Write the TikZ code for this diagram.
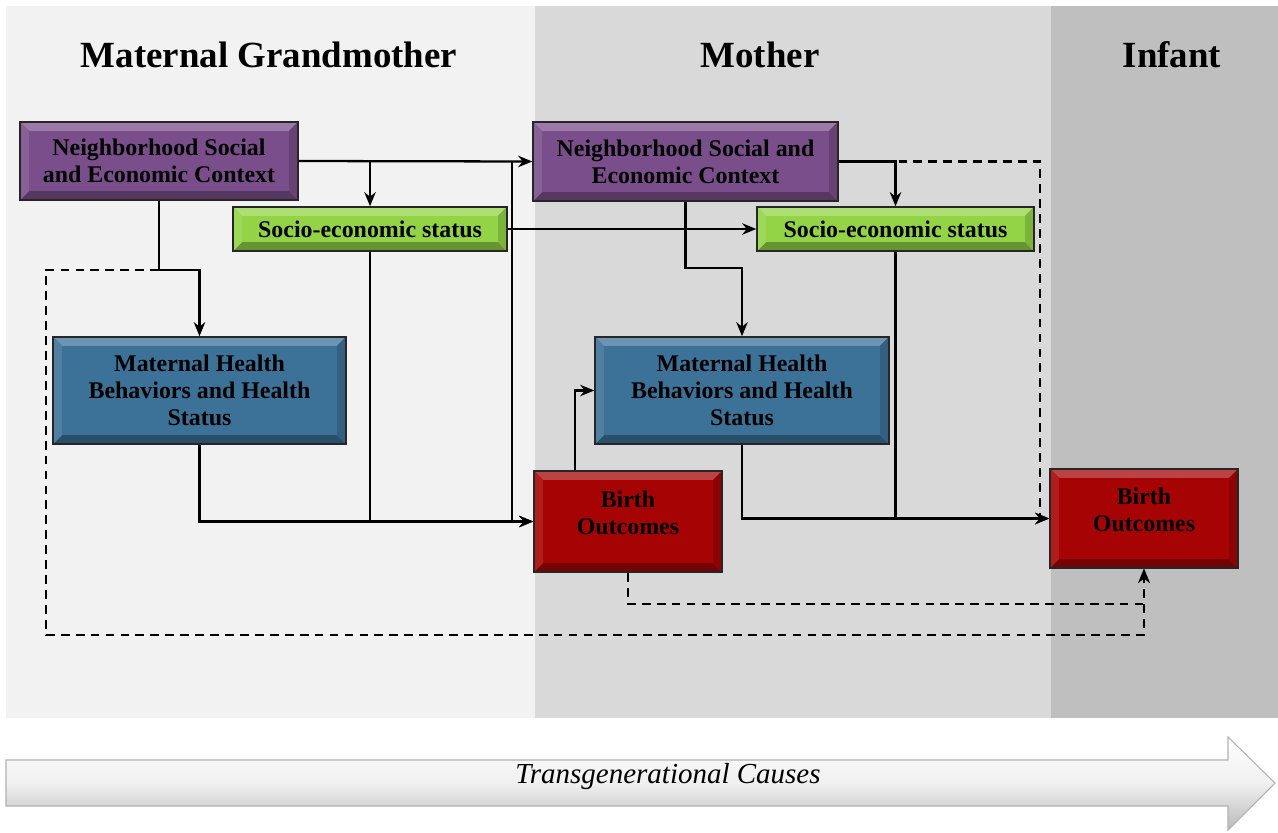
\documentclass[tikz,border=0pt]{standalone}
\usepackage{fontspec}
\setmainfont{Liberation Serif}
\usetikzlibrary{calc,arrows.meta}
\definecolor{panelA}{HTML}{F2F2F2}
\definecolor{panelB}{HTML}{D9D9D9}
\definecolor{panelC}{HTML}{BFBFBF}
\definecolor{boxpurple}{RGB}{122,78,138}
\definecolor{boxgreen}{RGB}{146,212,70}
\definecolor{boxblue}{RGB}{60,113,152}
\definecolor{boxred}{RGB}{166,4,4}
\tikzset{
  bevelbox/.style={draw=black!85, line width=0.9pt, fill=#1, inner sep=0pt, align=center,
    font=\fontsize{13.6}{15.5}\selectfont\bfseries,
    path picture={
      \coordinate (PA) at (path picture bounding box.north west);
      \coordinate (PB) at (path picture bounding box.north east);
      \coordinate (PC) at (path picture bounding box.south east);
      \coordinate (PD) at (path picture bounding box.south west);
      \fill[#1!75!white] (PA) -- (PB) -- ([shift={(-5pt,-5pt)}]PB) -- ([shift={(5pt,-5pt)}]PA) -- cycle;
      \fill[#1!70!black] (PD) -- (PC) -- ([shift={(-5pt,5pt)}]PC) -- ([shift={(5pt,5pt)}]PD) -- cycle;
      \fill[#1!90!white] (PA) -- (PD) -- ([shift={(5pt,5pt)}]PD) -- ([shift={(5pt,-5pt)}]PA) -- cycle;
      \fill[#1!85!black] (PB) -- (PC) -- ([shift={(-5pt,5pt)}]PC) -- ([shift={(-5pt,-5pt)}]PB) -- cycle;
    }},
  wire/.style={line width=1.3pt},
  conn/.style={wire, -{Stealth[length=8pt,width=6.5pt]}},
  dconn/.style={conn, dash pattern=on 5pt off 3.5pt},
}

\begin{document}
\begin{tikzpicture}[x=0.02cm,y=-0.02cm]
  \useasboundingbox[fill=white] (0,0) rectangle (1278,832);
  \foreach \xa/\xb/\col/\xt/\name in {%
    6/535/panelA/269/Maternal Grandmother,
    535/1051/panelB/760/Mother,
    1051/1278/panelC/1172/Infant}{%
      \fill[\col] (\xa,6) rectangle (\xb,718);
      \node[font=\fontsize{21}{24}\selectfont\bfseries] at (\xt,55) {\name};
    }

  % grandmother
  \node[bevelbox=boxpurple, minimum width=5.56cm, minimum height=1.56cm] (nsA) at (159,161) {Neighborhood Social\\and Economic Context};
  \node[bevelbox=boxgreen, minimum width=5.48cm, minimum height=0.88cm] (sesA) at (370,229) {Socio-economic status};
  \node[bevelbox=boxblue, minimum width=5.86cm, minimum height=2.14cm] (mhA) at (199.5,390.5) {Maternal Health\\Behaviors and Health\\Status};
  % mother
  \node[bevelbox=boxpurple, minimum width=6.1cm, minimum height=1.58cm] (nsB) at (685.5,161.5) {Neighborhood Social and\\Economic Context};
  \node[bevelbox=boxgreen, minimum width=5.54cm, minimum height=0.88cm] (sesB) at (895.5,229) {Socio-economic status};
  \node[bevelbox=boxblue, minimum width=5.88cm, minimum height=2.14cm] (mhB) at (742,390.5) {Maternal Health\\Behaviors and Health\\Status};
  \node[bevelbox=boxred, minimum width=3.76cm, minimum height=2.02cm] (boA) at (628,521.5) {Birth\\Outcomes\\[-5.5pt]};
  % infant
  \node[bevelbox=boxred, minimum width=3.76cm, minimum height=1.98cm] (boB) at (1144,518.5) {Birth\\Outcomes\\[-5.5pt]};

  \coordinate (jA) at (159,270);
  \coordinate (jB) at (685.5,268);
  \coordinate (vA) at (512,161);
  \draw[conn] (nsA.east) -- (nsB.west);
  \draw[conn] (nsA.east -| sesA.north) -- (sesA.north);
  \draw[conn] (nsA.south) -- (jA) -| (mhA.north);
  \draw[dconn] (jA) -- (46,270) -- (46,635) -| (boB.south);
  \draw[conn] (sesA.east) -- (sesB.west);
  \draw[wire] (sesA.south) -- (sesA.south |- boA.west);
  \draw[conn] (mhA.south) |- (boA.west);
  \draw[conn] (vA) |- (boA.west);

  \draw[conn] (nsB.east) -| (sesB.north);
  \draw[conn] (nsB.south) -- (jB) -| (mhB.north);
  \draw[dconn] (nsB.east) -- (1040,161.5) |- (boB.west);
  \draw[wire] (sesB.south) -- (sesB.south |- boB.west);
  \draw[conn] (mhB.south) |- (boB.west);
  \draw[conn] ($(boA.north)+(-53,0)$) |- (mhB.west);
  \draw[dconn] (boA.south) -- ++(0,31) -| (boB.south);

  % time arrow
  \shade[top color=white, bottom color=gray!55, middle color=gray!12, draw=gray!60, line width=0.6pt]
    (6,760) -- (1228,760) -- (1228,737) -- (1275,783) -- (1228,830) -- (1228,806) -- (6,806) -- cycle;
  \node[font=\fontsize{16.5}{19}\selectfont\itshape] (tc) at (668,777) {Transgenerational Causes};
\end{tikzpicture}
\end{document}
